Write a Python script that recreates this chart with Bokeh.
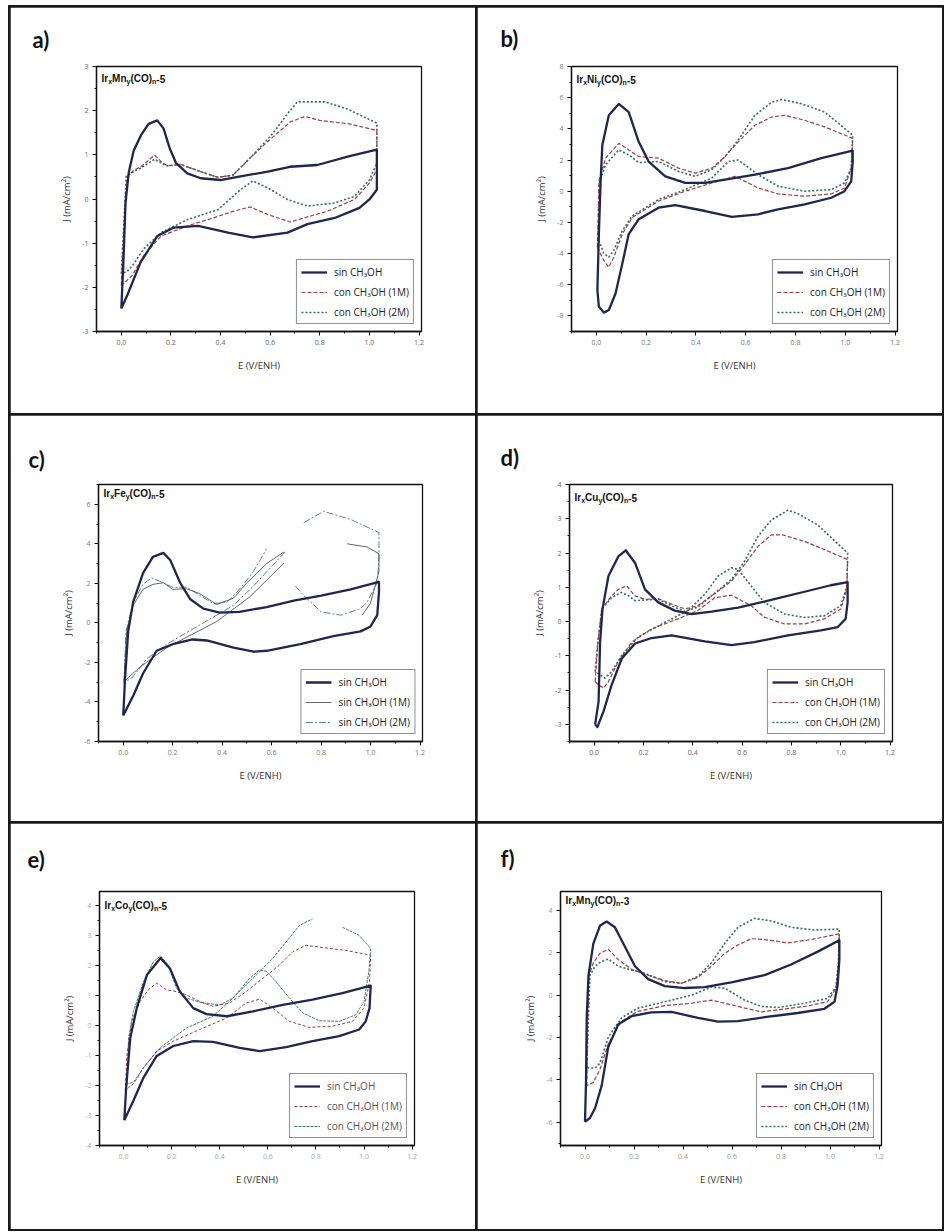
from bokeh.plotting import figure
from bokeh.models import Label, Legend, LegendItem, SingleIntervalTicker, Range1d, NumeralTickFormatter, Title
from bokeh.layouts import column, row
from bokeh.embed import file_html
from bokeh.resources import INLINE

nan = float("nan")

# ---------------- data (E in V/ENH, J in mA/cm2) ----------------
# a) IrxMny(CO)n-5
a_sin_E = [0.0, 0.008, 0.017, 0.03, 0.05, 0.08, 0.11, 0.145, 0.17, 0.195, 0.22, 0.266, 0.32, 0.40, 0.48, 0.59, 0.68, 0.79, 0.92, 1.03, 1.03, 1.0, 0.96, 0.86, 0.75, 0.67, 0.53, 0.43, 0.31, 0.21, 0.145, 0.078, 0.024, 0.0]
a_sin_J = [-2.48, -1.5, -0.09, 0.6, 1.1, 1.45, 1.7, 1.78, 1.6, 1.15, 0.82, 0.58, 0.47, 0.43, 0.51, 0.62, 0.73, 0.77, 0.97, 1.12, 0.21, -0.01, -0.2, -0.43, -0.57, -0.76, -0.87, -0.76, -0.61, -0.65, -0.84, -1.43, -2.18, -2.48]
a_1m_E = [0.0, 0.01, 0.024, 0.05, 0.078, 0.134, 0.16, 0.185, 0.24, 0.32, 0.39, 0.45, 0.53, 0.61, 0.68, 0.74, 0.80, 0.92, 1.03, 1.03, 1.0, 0.94, 0.83, 0.76, 0.68, 0.59, 0.52, 0.45, 0.37, 0.266, 0.16, 0.09, 0.044, 0.0]
a_1m_J = [-1.96, -0.8, 0.51, 0.65, 0.73, 0.99, 0.85, 0.75, 0.78, 0.62, 0.49, 0.54, 0.99, 1.40, 1.74, 1.87, 1.78, 1.70, 1.55, 0.66, 0.36, -0.01, -0.28, -0.39, -0.52, -0.35, -0.18, -0.28, -0.43, -0.61, -0.84, -1.28, -1.73, -1.96]
a_2m_E = [0.0, 0.01, 0.02, 0.05, 0.078, 0.134, 0.16, 0.185, 0.24, 0.32, 0.39, 0.45, 0.53, 0.61, 0.67, 0.71, 0.82, 0.91, 1.03, 1.03, 1.0, 0.94, 0.86, 0.75, 0.67, 0.59, 0.53, 0.48, 0.39, 0.27, 0.16, 0.09, 0.05, 0.024, 0.0]
a_2m_J = [-1.69, -0.6, 0.51, 0.62, 0.70, 0.90, 0.82, 0.75, 0.78, 0.62, 0.49, 0.54, 0.99, 1.48, 1.93, 2.2, 2.2, 2.04, 1.72, 0.81, 0.43, 0.06, -0.09, -0.16, -0.01, 0.25, 0.41, 0.21, -0.24, -0.46, -0.76, -1.13, -1.47, -1.64, -1.69]

# b) IrxNiy(CO)n-5
b_sin_E = [0.004, 0.01, 0.017, 0.024, 0.05, 0.09, 0.13, 0.17, 0.21, 0.277, 0.357, 0.437, 0.517, 0.637, 0.77, 0.904, 1.03, 1.03, 1.024, 0.997, 0.944, 0.837, 0.73, 0.65, 0.544, 0.437, 0.317, 0.25, 0.17, 0.13, 0.104, 0.077, 0.05, 0.03, 0.01, 0.004]
b_sin_J = [-6.35, -2.75, 0.63, 2.96, 4.87, 5.6, 5.08, 3.17, 1.9, 0.95, 0.53, 0.53, 0.74, 1.06, 1.48, 2.12, 2.6, 1.9, 0.63, 0.0, -0.42, -0.85, -1.16, -1.48, -1.65, -1.27, -0.89, -1.06, -1.8, -2.75, -4.66, -6.56, -7.62, -7.79, -7.4, -6.35]
b_1m_E = [0.004, 0.01, 0.037, 0.09, 0.13, 0.17, 0.25, 0.33, 0.397, 0.464, 0.517, 0.57, 0.637, 0.704, 0.757, 0.837, 0.917, 1.03, 1.024, 0.997, 0.944, 0.837, 0.73, 0.65, 0.557, 0.464, 0.357, 0.25, 0.144, 0.104, 0.07, 0.05, 0.03, 0.004]
b_1m_J = [-3.6, 0.63, 2.12, 3.07, 2.65, 2.22, 2.12, 1.48, 1.16, 1.48, 2.22, 3.17, 4.23, 4.76, 4.87, 4.55, 4.13, 3.39, 1.48, 0.21, -0.17, -0.32, -0.17, 0.21, 0.95, 0.53, 0.0, -0.63, -1.69, -2.75, -4.23, -4.87, -4.44, -3.6]
b_2m_E = [0.008, 0.013, 0.037, 0.09, 0.13, 0.17, 0.25, 0.33, 0.397, 0.464, 0.517, 0.57, 0.637, 0.704, 0.744, 0.824, 0.917, 1.03, 1.024, 0.997, 0.944, 0.837, 0.73, 0.65, 0.57, 0.53, 0.464, 0.357, 0.25, 0.144, 0.104, 0.07, 0.05, 0.03, 0.008]
b_2m_J = [-3.07, 0.6, 1.69, 2.65, 2.33, 1.84, 1.9, 1.27, 0.95, 1.38, 2.22, 3.28, 4.87, 5.71, 5.88, 5.61, 5.08, 3.6, 1.48, 0.53, 0.1, 0.0, 0.32, 1.06, 2.0, 1.9, 0.85, 0.1, -0.53, -1.59, -2.54, -3.8, -4.23, -4.0, -3.07]

# c) IrxFey(CO)n-5 (broken traces in the original)
c_sin_E = [0.0, 0.007, 0.02, 0.04, 0.08, 0.12, 0.162, 0.19, 0.23, 0.27, 0.324, 0.39, 0.47, 0.58, 0.69, 0.80, 0.92, 1.034, 1.034, 1.027, 1.0, 0.96, 0.85, 0.716, 0.58, 0.527, 0.446, 0.338, 0.28, 0.2, 0.135, 0.08, 0.04, 0.0]
c_sin_J = [-4.69, -2.89, -0.43, 1.05, 2.52, 3.34, 3.54, 3.18, 2.03, 1.21, 0.72, 0.52, 0.56, 0.80, 1.13, 1.38, 1.70, 2.07, 1.54, 0.39, -0.18, -0.43, -0.67, -1.08, -1.41, -1.46, -1.25, -0.89, -0.84, -1.08, -1.41, -2.56, -3.70, -4.69]
c_1m_E = [0.003, 0.014, 0.04, 0.08, 0.12, 0.162, 0.2, 0.257, 0.31, 0.378, 0.446, 0.5, 0.58, 0.65, nan, 0.905, 0.986, 1.034, 1.034, 1.0, 0.966, nan, 0.65, 0.51, 0.378, 0.176, 0.068, 0.003]
c_1m_J = [-2.97, -0.43, 0.89, 1.70, 1.95, 2.03, 1.70, 1.72, 1.48, 0.93, 1.25, 2.03, 3.0, 3.59, nan, 4.0, 3.84, 3.5, 2.6, 1.0, 0.39, nan, 3.02, 1.30, 0.07, -1.25, -2.23, -2.97]
c_2m_E = [0.003, 0.011, 0.04, 0.08, 0.115, 0.162, 0.2, 0.257, 0.31, 0.365, 0.42, 0.47, 0.527, 0.58, nan, 0.73, 0.81, 0.92, 1.034, 1.034, 1.027, 0.986, 0.96, 0.88, 0.80, 0.73, 0.69, nan, 0.655, 0.527, 0.446, 0.31, 0.176, 0.095, 0.04, 0.003]
c_2m_J = [-3.05, -0.43, 1.05, 1.95, 2.28, 2.03, 1.80, 1.80, 1.39, 0.97, 1.05, 1.70, 2.61, 3.75, nan, 5.07, 5.64, 5.23, 4.57, 3.34, 2.03, 1.05, 0.72, 0.39, 0.56, 1.38, 1.95, nan, 3.59, 1.87, 0.89, -0.10, -1.08, -1.82, -2.72, -3.05]

# d) IrxCuy(CO)n-5
d_sin_E = [0.004, 0.018, 0.024, 0.034, 0.058, 0.098, 0.128, 0.166, 0.206, 0.26, 0.327, 0.395, 0.476, 0.584, 0.718, 0.853, 0.96, 1.028, 1.028, 1.02, 0.988, 0.92, 0.786, 0.65, 0.557, 0.449, 0.314, 0.233, 0.166, 0.112, 0.071, 0.038, 0.013, 0.004]
d_sin_J = [-3.0, -2.33, -0.6, 0.37, 1.33, 1.9, 2.08, 1.71, 0.94, 0.56, 0.32, 0.22, 0.29, 0.41, 0.63, 0.87, 1.06, 1.15, 0.56, 0.08, -0.16, -0.26, -0.40, -0.6, -0.69, -0.58, -0.40, -0.48, -0.64, -1.08, -1.85, -2.62, -3.08, -3.0]
d_1m_E = [0.004, 0.015, 0.031, 0.071, 0.098, 0.132, 0.166, 0.206, 0.26, 0.314, 0.368, 0.42, 0.476, 0.557, 0.61, 0.664, 0.718, 0.765, 0.853, 0.934, 1.028, 1.025, 1.0, 0.934, 0.853, 0.772, 0.69, 0.637, 0.557, 0.49, 0.42, 0.34, 0.233, 0.152, 0.098, 0.058, 0.038, 0.018, 0.004]
d_1m_J = [-1.75, -0.6, 0.37, 0.75, 0.94, 1.04, 0.75, 0.65, 0.67, 0.51, 0.37, 0.46, 0.75, 1.18, 1.66, 2.19, 2.53, 2.53, 2.34, 2.10, 1.81, 0.94, 0.37, 0.08, -0.07, -0.07, 0.13, 0.46, 0.77, 0.70, 0.32, 0.08, -0.21, -0.60, -1.17, -1.75, -1.94, -1.85, -1.75]
d_2m_E = [0.004, 0.015, 0.031, 0.071, 0.11, 0.14, 0.166, 0.206, 0.26, 0.314, 0.368, 0.42, 0.476, 0.557, 0.61, 0.664, 0.718, 0.786, 0.826, 0.907, 1.028, 1.025, 1.0, 0.934, 0.853, 0.772, 0.69, 0.637, 0.584, 0.557, 0.503, 0.449, 0.381, 0.287, 0.179, 0.112, 0.071, 0.044, 0.024, 0.004]
d_2m_J = [-1.46, -0.6, 0.37, 0.70, 0.85, 0.75, 0.61, 0.63, 0.65, 0.46, 0.30, 0.42, 0.75, 1.23, 1.76, 2.48, 2.96, 3.25, 3.15, 2.82, 2.0, 1.04, 0.46, 0.17, 0.12, 0.22, 0.56, 1.04, 1.52, 1.57, 1.33, 0.80, 0.32, -0.02, -0.45, -0.98, -1.46, -1.65, -1.55, -1.46]

# e) IrxCoy(CO)n-5
e_sin_E = [0.003, 0.011, 0.028, 0.055, 0.097, 0.154, 0.193, 0.234, 0.29, 0.345, 0.43, 0.538, 0.662, 0.786, 0.91, 1.028, 1.023, 1.007, 0.98, 0.897, 0.786, 0.676, 0.566, 0.483, 0.372, 0.29, 0.207, 0.138, 0.083, 0.041, 0.003]
e_sin_J = [-3.16, -2.07, -0.42, 0.57, 1.67, 2.24, 1.89, 1.12, 0.57, 0.37, 0.30, 0.46, 0.68, 0.85, 1.07, 1.32, 0.57, 0.13, -0.14, -0.36, -0.53, -0.73, -0.86, -0.75, -0.55, -0.53, -0.69, -1.02, -1.74, -2.51, -3.16]
e_1m_E = [0.007, 0.014, 0.034, 0.069, 0.103, 0.138, 0.179, 0.22, 0.262, 0.317, 0.372, 0.441, 0.51, 0.579, 0.648, 0.703, 0.759, 0.814, 0.924, 1.028, 1.023, 1.0, 0.952, 0.869, 0.772, 0.69, 0.62, 0.566, 0.51, 0.428, 0.317, 0.207, 0.138, 0.083, 0.041, 0.021, 0.007]
e_1m_J = [-2.18, -1.0, 0.13, 0.79, 1.18, 1.40, 1.18, 1.12, 1.01, 0.79, 0.63, 0.74, 1.12, 1.56, 2.0, 2.44, 2.66, 2.60, 2.49, 2.33, 1.45, 0.57, 0.13, -0.03, -0.07, 0.13, 0.57, 0.87, 0.74, 0.24, -0.14, -0.53, -0.86, -1.41, -1.96, -2.07, -2.18]
e_2m_E = [0.014, 0.021, 0.041, 0.083, 0.124, 0.154, 0.186, 0.22, 0.262, 0.331, 0.4, 0.455, 0.51, 0.566, 0.62, 0.676, 0.731, 0.786, nan, 0.91, 0.98, 1.028, 1.02, 1.0, 0.966, 0.897, 0.814, 0.745, 0.69, 0.634, 0.593, 0.566, 0.524, 0.455, 0.372, 0.262, 0.152, 0.083, 0.041, 0.014]
e_2m_J = [-1.96, -0.42, 0.46, 1.45, 2.11, 2.31, 2.0, 1.23, 0.9, 0.74, 0.68, 0.9, 1.34, 1.78, 2.22, 2.77, 3.32, 3.54, nan, 3.26, 2.99, 2.55, 1.78, 0.79, 0.35, 0.13, 0.15, 0.41, 0.9, 1.45, 1.80, 1.84, 1.56, 0.9, 0.30, -0.09, -0.75, -1.41, -1.90, -1.96]

# f) IrxMny(CO)n-3
f_sin_E = [0.0, 0.004, 0.007, 0.014, 0.034, 0.061, 0.088, 0.122, 0.163, 0.204, 0.258, 0.326, 0.407, 0.488, 0.597, 0.733, 0.841, 0.95, 1.038, 1.038, 1.031, 1.018, 0.977, 0.868, 0.733, 0.624, 0.543, 0.461, 0.353, 0.271, 0.19, 0.136, 0.095, 0.068, 0.041, 0.02, 0.0]
f_sin_J = [-5.98, -4.12, -1.07, 0.92, 2.44, 3.28, 3.48, 3.21, 2.29, 1.37, 0.76, 0.43, 0.34, 0.38, 0.61, 0.95, 1.45, 2.06, 2.60, 1.68, 0.46, -0.31, -0.64, -0.84, -1.04, -1.22, -1.25, -1.07, -0.79, -0.81, -0.99, -1.37, -2.44, -4.27, -5.34, -5.8, -5.98]
f_1m_E = [0.007, 0.011, 0.016, 0.034, 0.061, 0.095, 0.136, 0.19, 0.244, 0.326, 0.393, 0.461, 0.516, 0.57, 0.624, 0.678, 0.733, 0.828, 0.923, 1.038, 1.034, 1.024, 0.99, 0.896, 0.787, 0.72, 0.624, 0.516, 0.434, 0.326, 0.217, 0.149, 0.095, 0.061, 0.034, 0.007]
f_1m_J = [-4.27, -1.5, 0.92, 1.53, 1.98, 2.17, 1.68, 1.22, 0.99, 0.69, 0.56, 0.84, 1.37, 1.98, 2.37, 2.67, 2.63, 2.47, 2.63, 2.90, 1.37, 0.31, -0.31, -0.53, -0.69, -0.79, -0.53, -0.23, -0.38, -0.49, -0.76, -1.22, -2.29, -3.51, -4.12, -4.27]
f_2m_E = [0.007, 0.014, 0.02, 0.041, 0.068, 0.095, 0.136, 0.19, 0.244, 0.326, 0.393, 0.461, 0.516, 0.57, 0.624, 0.692, 0.76, 0.841, 0.936, 1.038, 1.034, 1.024, 0.99, 0.896, 0.787, 0.72, 0.651, 0.57, 0.516, 0.434, 0.326, 0.217, 0.149, 0.095, 0.061, 0.041, 0.007]
f_2m_J = [-3.44, -1.0, 0.92, 1.37, 1.60, 1.71, 1.37, 1.19, 1.04, 0.64, 0.56, 0.89, 1.53, 2.44, 3.21, 3.63, 3.51, 3.21, 3.08, 3.13, 1.53, 0.38, -0.15, -0.38, -0.58, -0.53, -0.23, 0.34, 0.38, 0.0, -0.31, -0.61, -1.07, -1.98, -3.21, -3.44, -3.44]

# texts
panel_letters = ["a)", "b)", "c)", "d)", "e)", "f)"]
panel_metals = ["Mn", "Ni", "Fe", "Cu", "Co", "Mn"]
panel_suffix = ["-5", "-5", "-5", "-5", "-5", "-3"]
legend_std = ["sin CH₃OH", "con CH₃OH (1M)", "con CH₃OH (2M)"]
legend_c = ["sin CH₃OH", "sin CH₃OH (1M)", "sin CH₃OH (2M)"]
x_title = "E (V/ENH)"
y_title = "J (mA/cm²)"

# axis ranges / tick steps
y_ranges = [(-3, 3), (-9, 8), (-6, 7), (-3.5, 4), (-4, 4.45), (-7.1, 4.9)]
y_steps = [1, 2, 2, 1, 1, 2]

# ---------------- styling ----------------
CELL_W, CELL_H = 465, 406
# frame left, frame width, frame top, frame height, letter x, letter y (cell-relative px)
GEOM = [(86, 325, 55, 269, 22, 29), (94, 326, 58, 268, 23, 29),
        (88, 324, 62, 264, 18, 40), (92, 323, 69, 260, 23, 42),
        (89, 315, 66, 256, 17, 22), (83, 321, 67, 261, 23, 25)]

NAVY = "#1d2752"
STY_SIN = (NAVY, 2.3, "solid")
STY_1M = ("#a23a40", 1.2, "4 2")
STY_2M = ("#2f6d5f", 1.6, "2 2")
STYLES = [
    (STY_SIN, STY_1M, STY_2M),
    (STY_SIN, STY_1M, STY_2M),
    (STY_SIN, ("#555555", 0.9, "solid"), ("#3d7d70", 0.9, "7 2 2 2")),
    (STY_SIN, STY_1M, STY_2M),
    (STY_SIN, ("#a23a40", 1.0, "3 2"), ("#3e7f6a", 1.0, "3 1")),
    (STY_SIN, STY_1M, STY_2M),
]
TICK_COLORS = ["#666", "#777", "#777", "#666", "#aaa", "#999"]

# Arial-bold advance widths (em) for the sample-name label pieces
CW = {'I': 0.278, 'r': 0.389, 'M': 0.833, 'n': 0.611, '(': 0.333, 'C': 0.722, 'O': 0.778,
      ')': 0.333, '-': 0.333, '5': 0.556, '3': 0.556, 'N': 0.722, 'i': 0.278, 'F': 0.611,
      'e': 0.556, 'u': 0.611, 'o': 0.611, 'x': 0.556, 'y': 0.556}


def tw(s, size):
    return sum(CW.get(ch, 0.556) for ch in s) * size


def build(i, series, labels):
    fl, fw, ft, fh, lx, ly = GEOM[i]
    p = figure(width=CELL_W, height=CELL_H, title=None,
               x_range=Range1d(-0.1, 1.21), y_range=Range1d(*y_ranges[i]),
               output_backend="svg", toolbar_location=None,
               min_border_left=fl, min_border_right=CELL_W - fl - fw,
               min_border_top=ft, min_border_bottom=CELL_H - ft - fh,
               background_fill_color="white", border_fill_color="white")
    p.grid.visible = False
    p.outline_line_color = "#111"
    p.outline_line_width = 1.3
    p.outline_line_alpha = 1.0
    p.xaxis.ticker = SingleIntervalTicker(interval=0.2, num_minor_ticks=2)
    p.xaxis.formatter = NumeralTickFormatter(format="0.0")
    p.yaxis.ticker = SingleIntervalTicker(interval=y_steps[i], num_minor_ticks=2)
    p.yaxis.formatter = NumeralTickFormatter(format="0")
    for ax in (p.xaxis[0], p.yaxis[0]):
        ax.axis_line_color = "#111"
        ax.axis_line_width = 1.3
        ax.major_tick_out = 4
        ax.major_tick_in = 0
        ax.minor_tick_out = 2
        ax.minor_tick_in = 0
        ax.major_tick_line_color = "#111"
        ax.minor_tick_line_color = "#111"
        ax.major_label_text_font = "Open Sans"
        ax.major_label_text_font_size = "7px"
        ax.major_label_text_color = TICK_COLORS[i]
        ax.major_label_standoff = 4
        ax.axis_label_text_font = "Open Sans"
        ax.axis_label_text_font_size = "9.5px"
        ax.axis_label_text_font_style = "normal"
        ax.axis_label_text_color = "#333"
    p.xaxis.axis_label = x_title
    p.xaxis.axis_label_standoff = 11
    p.yaxis.axis_label = y_title
    p.yaxis.axis_label_standoff = 6

    rends = []
    for (E, J), (col, w, dash) in zip(series, STYLES[i]):
        n = min(len(E), len(J))
        rends.append((E[:n], J[:n], col, w, dash))
    gmap = {}
    for k in (2, 1, 0):
        E, J, col, w, dash = rends[k]
        gmap[k] = p.line(E, J, line_color=col, line_width=w, line_dash=dash, line_join="round")
    items = [LegendItem(label=labels[k], renderers=[gmap[k]]) for k in range(3)]
    leg = Legend(items=items, location="bottom_right", margin=7, padding=4, spacing=5,
                 label_height=15, glyph_height=14, glyph_width=26, label_standoff=7,
                 label_text_font="Open Sans", label_text_font_size="10px",
                 label_text_color="#555" if i == 4 else "#222",
                 border_line_color="#222", border_line_width=1.2,
                 background_fill_color="white", background_fill_alpha=1.0)
    p.add_layout(leg)

    # panel letter above the frame
    p.add_layout(Title(text=panel_letters[i], align="left", offset=lx - fl,
                       standoff=max(min(ft - ly + 1, ft - 28), 0),
                       text_font="Lato", text_font_size="22px", text_font_style="bold",
                       text_color="#111"), "above")
    # sample name with subscripts
    pieces = [("Ir", False), ("x", True), (panel_metals[i], False), ("y", True),
              ("(CO)", False), ("n", True), (panel_suffix[i], False)]
    x = 5.0
    for txt, sub in pieces:
        size = 7 if sub else 10
        yb = fh - 19 if sub else fh - 16
        p.add_layout(Label(x=x, y=yb, x_units="screen", y_units="screen", text=txt,
                           text_font="Liberation Sans", text_font_size=f"{size}px",
                           text_font_style="bold", text_color="#111",
                           text_baseline="alphabetic"))
        x += tw(txt, size)
    return p


pa = build(0, [(a_sin_E, a_sin_J), (a_1m_E, a_1m_J), (a_2m_E, a_2m_J)], legend_std)
pb = build(1, [(b_sin_E, b_sin_J), (b_1m_E, b_1m_J), (b_2m_E, b_2m_J)], legend_std)
pc = build(2, [(c_sin_E, c_sin_J), (c_1m_E, c_1m_J), (c_2m_E, c_2m_J)], legend_c)
pd = build(3, [(d_sin_E, d_sin_J), (d_1m_E, d_1m_J), (d_2m_E, d_2m_J)], legend_std)
pe = build(4, [(e_sin_E, e_sin_J), (e_1m_E, e_1m_J), (e_2m_E, e_2m_J)], legend_std)
pf = build(5, [(f_sin_E, f_sin_J), (f_1m_E, f_1m_J), (f_2m_E, f_2m_J)], legend_std)

layout = column(row(pa, pb, spacing=2), row(pc, pd, spacing=2), row(pe, pf, spacing=2),
                spacing=2, margin=(5, 0, 0, 8),
                styles={"background-color": "#1a1a1a", "padding": "2px"})

open("out.html", "w").write(file_html(layout, INLINE))
